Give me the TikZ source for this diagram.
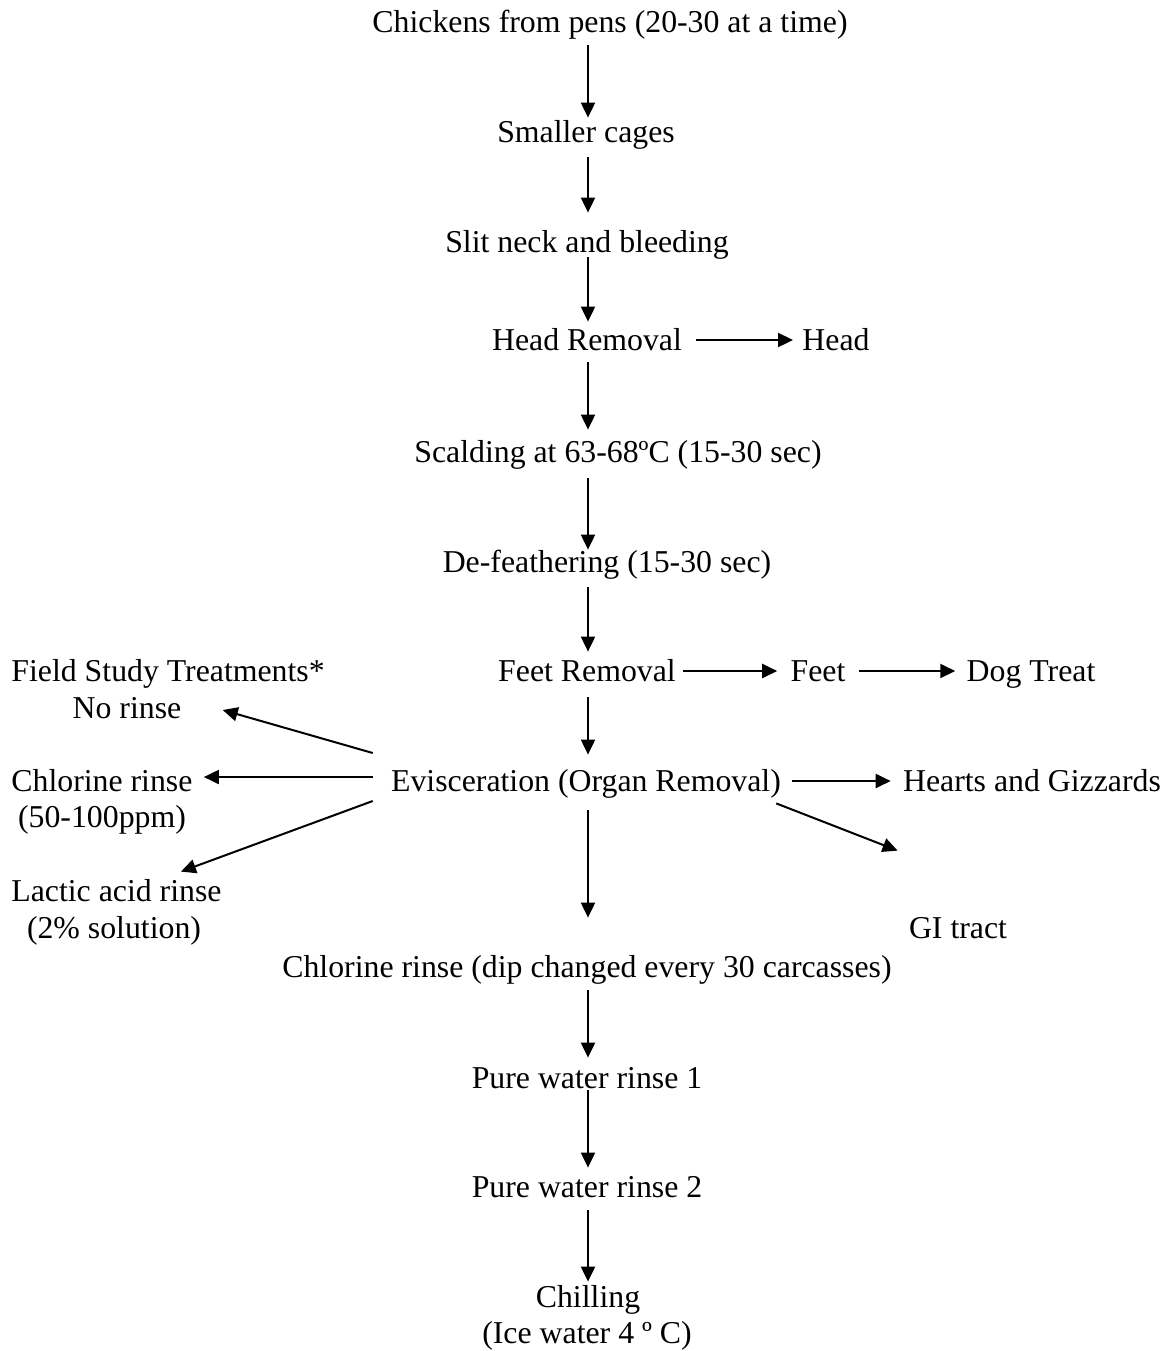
\documentclass[tikz,border=0pt]{standalone}
\usepackage{fontspec}
\setmainfont{Liberation Serif}
\usetikzlibrary{arrows.meta,calc}

\begin{document}
\begin{tikzpicture}[x=0.5pt, y=-0.5pt,
  txt/.style={inner sep=0pt, text height=10.5pt, text depth=0pt, font=\fontsize{15.9}{19}\selectfont},
  flow/.style={-{Triangle[length=7.5pt, width=7pt]}, line width=1pt}]
\useasboundingbox (0,0) rectangle (1169,1351);

\coordinate (axis) at (588,0);

\node[txt] (chk) at (610,22) {Chickens from pens (20-30 at a time)};
\node[txt] (smc) at (586,132) {Smaller cages};
\node[txt] (slit) at (587,242) {Slit neck and bleeding};
\node[txt] (hrem) at (587,340) {Head Removal};
\node[txt] (hout) at (836,340) {Head};
\node[txt] (scald) at (618,452) {Scalding at 63-68ºC (15-30 sec)};
\node[txt] (defeath) at (607,562) {De-feathering (15-30 sec)};
\node[txt] (frem) at (587,671) {Feet Removal};
\node[txt] (fout) at (818,671) {Feet};
\node[txt] (dog) at (1031,671) {Dog Treat};
\node[txt, anchor=west] (fst) at (11,671) {Field Study Treatments*};
\node[txt] (norinse) at (127,708) {No rinse};
\node[txt] (evisc) at (586,781) {Evisceration (Organ Removal)};
\node[txt] (hearts) at (1032,781) {Hearts and Gizzards};
\node[txt, anchor=west] (clr) at (11,781) {Chlorine rinse};
\node[txt] (clrppm) at (102,817) {(50-100ppm)};
\node[txt, anchor=west] (lac) at (11,891) {Lactic acid rinse};
\node[txt] (lacsol) at (114,928) {(2\% solution)};
\node[txt] (gi) at (958,928) {GI tract};
\node[txt] (cdip) at (587,967) {Chlorine rinse (dip changed every 30 carcasses)};
\node[txt] (pw1) at (587,1078) {Pure water rinse 1};
\node[txt] (pw2) at (587,1187) {Pure water rinse 2};
\node[txt] (chill) at (588,1297) {Chilling};
\node[txt] (ice) at (587,1333) {(Ice water 4 º C)};

\draw[flow, shorten <=6.25pt, shorten >=1.75pt] (chk.south -| axis) -- (smc.north -| axis);
\draw[flow, shorten <=7.25pt, shorten >=9.25pt] (smc.south -| axis) -- (slit.north -| axis);
\draw[flow, shorten <=2.25pt, shorten >=3.75pt] (slit.south -| axis) -- (hrem.north -| axis);
\draw[flow, shorten <=5.75pt, shorten >=5.75pt] (hrem.south -| axis) -- (scald.north -| axis);
\draw[flow, shorten <=7.75pt, shorten >=0.75pt] (scald.south -| axis) -- (defeath.north -| axis);
\draw[flow, shorten <=7.25pt, shorten >=4.25pt] (defeath.south -| axis) -- (frem.north -| axis);
\draw[flow, shorten <=7.75pt, shorten >=7.75pt] (frem.south -| axis) -- (evisc.north -| axis);
\draw[flow, shorten <=9.25pt, shorten >=19.25pt] (evisc.south -| axis) -- (cdip.north -| axis);
\draw[flow, shorten <=6.25pt, shorten >=4.75pt] (cdip.south -| axis) -- (pw1.north -| axis);
\draw[flow, shorten <=0.75pt, shorten >=4.25pt] (pw1.south -| axis) -- (pw2.north -| axis);
\draw[flow, shorten <=6.25pt, shorten >=2.25pt] (pw2.south -| axis) -- (chill.north -| axis);

\draw[flow, shorten <=7pt, shorten >=4.5pt] (hrem.east) -- (hout.west);
\draw[flow, shorten <=3.5pt, shorten >=6.5pt] (frem.east) -- (fout.west);
\draw[flow, shorten <=6.5pt, shorten >=5.5pt] (fout.east) -- (dog.west);
\draw[flow, shorten <=5.5pt, shorten >=6pt] (evisc.east) -- (hearts.west);
\draw[flow] ([shift={(-5,11.5)}]evisc.south east) -- ([shift={(-11,-66.5)}]gi.north west);

\draw[flow] ([shift={(-18,-28)}]evisc.west) -- ([shift={(41,2)}]norinse.east);
\draw[flow] ([shift={(-18,-4)}]evisc.west) -- ([shift={(11,-4)}]clr.east);
\draw[flow] ([shift={(-18,20)}]evisc.west) -- ([shift={(-41,-8.5)}]lac.north east);

\end{tikzpicture}
\end{document}
